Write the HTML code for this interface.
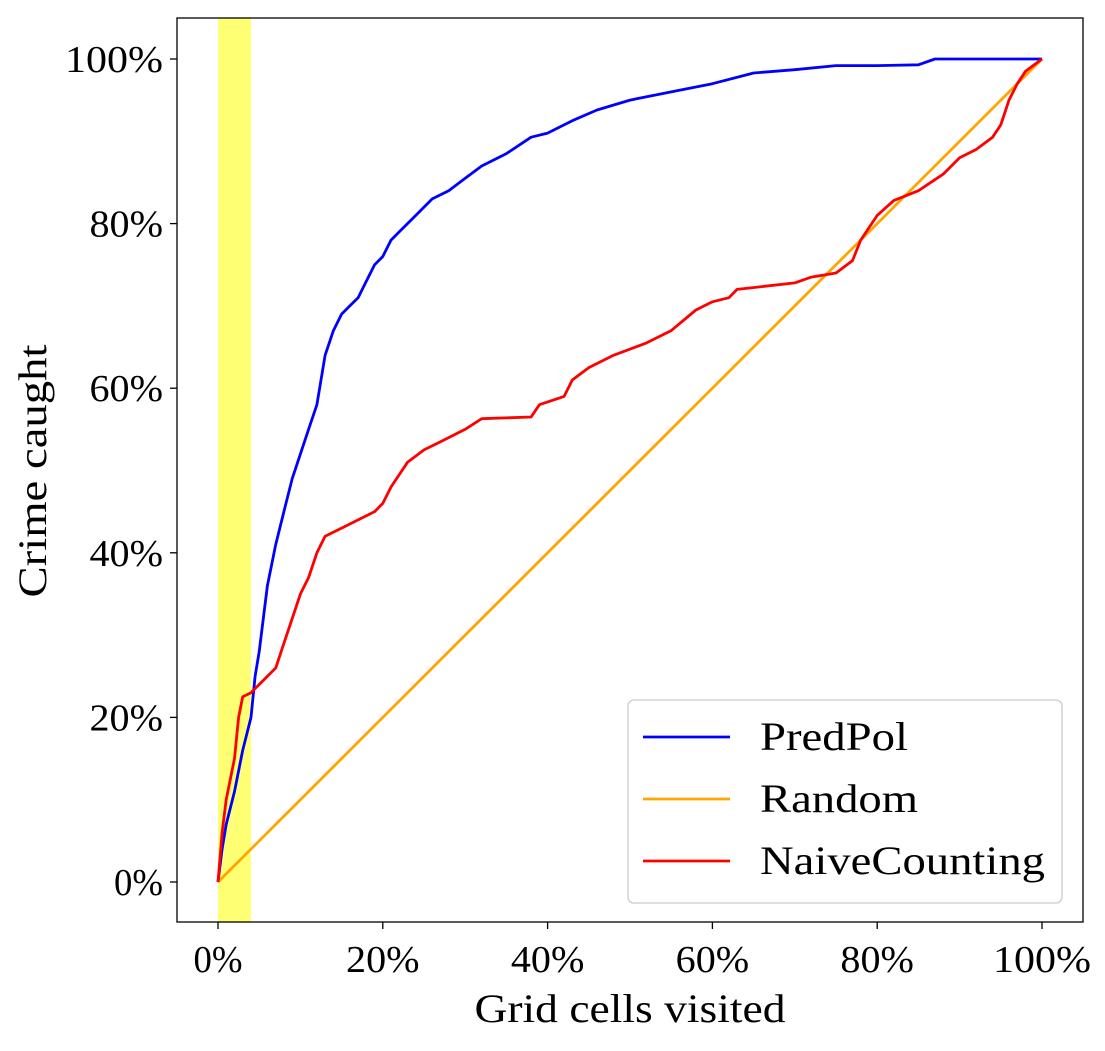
<!DOCTYPE html>
<html><head><meta charset="utf-8"><style>
body{margin:0;background:#fff}
svg text{font-family:"Liberation Serif",serif;fill:#000}
</style></head><body>
<svg id="chart" width="1105" height="1046"></svg>
<script>
const xTicks=[0,20,40,60,80,100];
const yTicks=[0,20,40,60,80,100];
const seriesNames=["PredPol","Random","NaiveCounting"];
const seriesColors=["#0000ff","#ffa500","#ff0000"];
const predpolX=[0,0.5,1,2,3,4,4.5,5,5.5,6,7,8,9,10,11,12,13,14,15,16,17,18,19,20,21,22,24,26,28,30,32,35,38,40,43,46,50,55,60,65,70,75,80,85,87,100];
const predpolY=[0,4,7,11,16,20,25,28,32,36,41,45,49,52,55,58,64,67,69,70,71,73,75,76,78,79,81,83,84,85.5,87,88.5,90.5,91,92.5,93.8,95,96,97,98.3,98.7,99.2,99.2,99.3,100,100];
const randomX=[0,100];
const randomY=[0,100];
const naiveX=[0,0.5,1,2,2.5,3,4,5,6,7,8,9,10,11,12,13,15,17,19,20,21,23,25,27,30,32,38,39,42,43,45,48,52,55,58,60,62,63,70,72,75,77,78,80,82,85,88,90,92,94,95,96,97,98,100];
const naiveY=[0,6,10,15,20,22.5,23,24,25,26,29,32,35,37,40,42,43,44,45,46,48,51,52.5,53.5,55,56.3,56.5,58,59,61,62.5,64,65.5,67,69.5,70.5,71,72,72.8,73.5,74,75.5,78,81,82.8,84,86,88,89,90.5,92,95,97,98.5,100];
const highlight=[0,4];
const NS="http://www.w3.org/2000/svg";
const svg=document.getElementById('chart');
const L=177,R=1083,T=18,B=922;
const sx=v=>218+v*8.24, sy=v=>882-v*8.23;
function mk(tag,attrs,parent){const e=document.createElementNS(NS,tag);for(const k in attrs)e.setAttribute(k,attrs[k]);(parent||svg).appendChild(e);return e;}
const hl=mk('rect',{x:sx(highlight[0]),y:T,width:sx(highlight[1])-sx(highlight[0]),height:B-T,fill:'#ffff00','fill-opacity':0.55});


const data=[[predpolX,predpolY],[randomX,randomY],[naiveX,naiveY]];
const order=[1,0,2];
order.forEach(i=>{const [xs,ys]=data[i];let d='';xs.forEach((x,j)=>{d+=(j?'L':'M')+sx(x).toFixed(1)+','+sy(ys[j]).toFixed(1);});
const p=mk('path',{d:d,fill:'none',stroke:seriesColors[i],'stroke-width':2.8,'stroke-linejoin':'round'});

});
const frame=mk('rect',{x:L,y:T,width:R-L,height:B-T,fill:'none',stroke:'#000','stroke-width':1.3});


xTicks.forEach(v=>{mk('line',{x1:sx(v),x2:sx(v),y1:B,y2:B+7,stroke:'#000','stroke-width':1.3});
const s=v+'%';
const t=mk('text',{x:sx(v),y:B+50,'text-anchor':'middle','font-size':38,textLength:s.length*24.5,lengthAdjust:'spacingAndGlyphs'});t.textContent=s;

});
yTicks.forEach(v=>{mk('line',{x1:L-7,x2:L,y1:sy(v),y2:sy(v),stroke:'#000','stroke-width':1.3});
const s=v+'%';
const t=mk('text',{x:L-14,y:sy(v)+13,'text-anchor':'end','font-size':38,textLength:s.length*24.5,lengthAdjust:'spacingAndGlyphs'});t.textContent=s;

});
const xl=mk('text',{x:630,y:1022,'text-anchor':'middle','font-size':40,textLength:311,lengthAdjust:'spacingAndGlyphs'});xl.textContent='Grid cells visited';


const yl=mk('text',{x:0,y:0,'text-anchor':'middle','font-size':40,textLength:253,lengthAdjust:'spacingAndGlyphs',transform:'translate(46,471) rotate(-90)'});yl.textContent='Crime caught';


const lg=mk('g',{});


mk('rect',{x:628,y:700,width:434,height:203,rx:6,fill:'#fff','fill-opacity':0.85,stroke:'#ccc','stroke-width':1.3},lg);
const legendW=[148,158,285];
seriesNames.forEach((n,i)=>{const y=737+i*62;
mk('line',{x1:643,x2:730,y1:y,y2:y,stroke:seriesColors[i],'stroke-width':2.8},lg);
const t=mk('text',{x:760,y:y+13,'font-size':40,textLength:legendW[i],lengthAdjust:'spacingAndGlyphs'},lg);t.textContent=n;

});
</script>
</body></html>
